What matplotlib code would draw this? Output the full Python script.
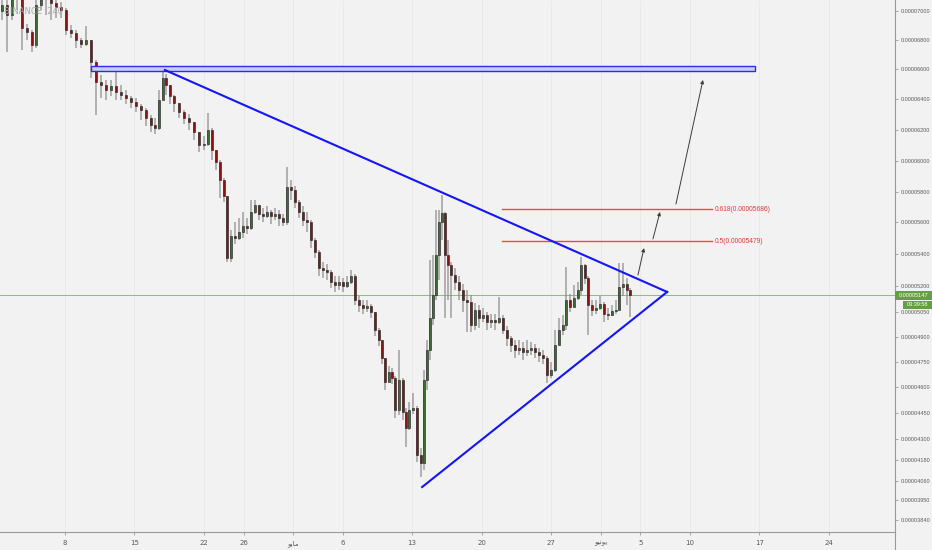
import numpy as np
import matplotlib.pyplot as plt
from matplotlib import font_manager

# 4h candles, x = days since 1 April, prices in units of 1e-8
days = [0.65, 1.16, 1.66, 2.16, 2.67, 3.17, 3.68, 4.08, 4.58, 5.09,
        5.59, 6.09, 6.6, 7.1, 7.61, 8.11, 8.61, 9.12, 9.62, 10.13,
        10.63, 11.13, 11.64, 12.14, 12.65, 13.15, 13.65, 14.16, 14.66, 15.17,
        15.67, 16.07, 16.48, 16.88, 17.18, 17.59, 17.99, 18.49, 19.0, 19.5,
        20.01, 20.51, 21.01, 21.42, 21.82, 22.22, 22.63, 23.03, 23.33, 23.73,
        24.14, 24.54, 24.94, 25.35, 25.75, 26.15, 26.56, 26.96, 27.36, 27.77,
        28.17, 28.57, 28.98, 29.38, 29.78, 30.19, 30.59, 30.99, 31.4, 31.8,
        32.2, 32.61, 33.01, 33.41, 33.82, 34.22, 34.62, 35.02, 35.43, 35.83,
        36.23, 36.64, 37.04, 37.44, 37.85, 38.25, 38.65, 38.96, 39.26, 39.66,
        39.96, 40.27, 40.67, 41.07, 41.37, 41.68, 42.08, 42.48, 42.89, 43.19,
        43.49, 43.79, 44.1, 44.4, 44.7, 45.0, 45.31, 45.61, 45.91, 46.31,
        46.72, 47.12, 47.52, 47.93, 48.33, 48.73, 49.14, 49.54, 49.94, 50.35,
        50.75, 51.15, 51.56, 51.96, 52.36, 52.77, 53.17, 53.57, 53.97, 54.38,
        54.78, 55.18, 55.59, 55.99, 56.39, 56.8, 57.2, 57.5, 57.9, 58.31,
        58.71, 59.01, 59.42, 59.72, 60.12, 60.53, 60.93, 61.33, 61.74, 62.14,
        62.54, 62.85, 63.25, 63.65, 63.95]

close = [7041, 6972, 7110, 7145, 6883, 6855, 6765, 7041, 7110, 7090,
         7055, 7028, 7007, 6869, 6848, 6800, 6772, 6800, 6648, 6513,
         6493, 6460, 6487, 6447, 6427, 6407, 6381, 6355, 6329, 6277,
         6232, 6213, 6394, 6540, 6493, 6420, 6374, 6316, 6277, 6252,
         6187, 6103, 6110, 6200, 6071, 5994, 5877, 5773, 5375, 5512,
         5500, 5537, 5575, 5562, 5667, 5713, 5653, 5640, 5667, 5640,
         5653, 5627, 5600, 5832, 5813, 5733, 5667, 5613, 5600, 5487,
         5412, 5312, 5300, 5287, 5225, 5206, 5225, 5200, 5225, 5262,
         5118, 5088, 5071, 5082, 5047, 4941, 4882, 4774, 4630, 4690,
         4654, 4467, 4642, 4456, 4363, 4467, 4479, 4208, 4163, 4642,
         4822, 5012, 5147, 5394, 5600, 5660, 5394, 5331, 5269, 5225,
         5176, 5118, 5106, 4971, 5059, 5012, 5029, 4988, 5000, 4988,
         5012, 4941, 4894, 4852, 4822, 4834, 4810, 4822, 4834, 4810,
         4792, 4774, 4672, 4702, 4852, 4941, 4971, 5118, 5076, 5129,
         5176, 5331, 5250, 5088, 5059, 5071, 5094, 5035, 5029, 5053,
         5059, 5194, 5212, 5176, 5147]

high = [7214, 7145, 7248, 7283, 7145, 6910, 6869, 7179, 7214, 7179,
        7110, 7076, 7062, 7021, 6903, 6869, 6814, 6897, 6800, 6662,
        6560, 6527, 6527, 6607, 6493, 6460, 6420, 6407, 6368, 6342,
        6297, 6277, 6460, 6593, 6567, 6487, 6427, 6368, 6329, 6303,
        6239, 6187, 6161, 6310, 6213, 6071, 6006, 5890, 5773, 5550,
        5600, 5627, 5667, 5627, 5747, 5747, 5713, 5693, 5707, 5680,
        5693, 5680, 5653, 5961, 5877, 5839, 5747, 5707, 5667, 5613,
        5500, 5425, 5350, 5337, 5300, 5262, 5262, 5250, 5262, 5300,
        5275, 5141, 5118, 5118, 5094, 5047, 4953, 4882, 4762, 4726,
        4714, 4666, 4822, 4654, 4479, 4513, 4565, 4490, 4249, 4702,
        4882, 5362, 5394, 5680, 5680, 5780, 5667, 5487, 5350, 5312,
        5262, 5212, 5176, 5147, 5100, 5088, 5071, 5047, 5035, 5035,
        5135, 5029, 4965, 4906, 4882, 4882, 4870, 4882, 4870, 4858,
        4834, 4822, 4786, 4750, 4941, 5012, 5029, 5319, 5153, 5206,
        5225, 5381, 5337, 5262, 5118, 5118, 5141, 5106, 5071, 5088,
        5118, 5344, 5344, 5250, 5188]

low = [6938, 6717, 6938, 7007, 6731, 6800, 6717, 6745, 7007, 6972,
       6938, 6952, 6952, 6834, 6814, 6745, 6745, 6759, 6540, 6297,
       6407, 6394, 6420, 6394, 6394, 6368, 6342, 6316, 6265, 6226,
       6187, 6174, 6200, 6394, 6427, 6368, 6316, 6277, 6239, 6200,
       6136, 6058, 6071, 6097, 6006, 5942, 5760, 5733, 5350, 5350,
       5462, 5487, 5500, 5525, 5550, 5653, 5613, 5600, 5627, 5587,
       5613, 5575, 5575, 5581, 5747, 5693, 5627, 5575, 5537, 5437,
       5375, 5262, 5250, 5237, 5188, 5165, 5176, 5165, 5188, 5212,
       5088, 5047, 5035, 5047, 5012, 4906, 4846, 4738, 4583, 4642,
       4618, 4421, 4438, 4410, 4254, 4352, 4444, 4168, 4083, 4123,
       4583, 4762, 4971, 5118, 5237, 5487, 5012, 5118, 5012, 5176,
       5118, 5047, 4929, 4929, 4941, 4953, 4988, 4941, 4953, 4941,
       4976, 4918, 4846, 4810, 4774, 4792, 4762, 4786, 4792, 4774,
       4750, 4738, 4624, 4654, 4690, 4882, 4912, 4941, 5047, 5094,
       5118, 5147, 5212, 4912, 5024, 5035, 5059, 4988, 5000, 5024,
       5035, 5059, 5141, 5088, 5018]

first_open = 7000
last_price = 5147
timer_text = "03:39:58"

# drawings
tri_days = [17.08, 67.7, 43.0]
tri_prices = [6593, 5165, 4025]
rect_days = [9.62, 76.6]
rect_prices = [6587, 6620]
fib_ratios = ["0.5", "0.618"]
fib_prices = [5479, 5686]
fib_days = [51.05, 72.22]
arrows = [((64.76, 5269), (65.37, 5437)),
          ((66.27, 5494), (66.98, 5667)),
          ((68.59, 5720), (71.31, 6527))]

x_ticks = [7, 14, 21, 25, 30, 35, 42, 49, 56, 61, 65, 70, 77, 84]
# Arabic month names in visual (shaped) order
MAY = "\ufeee\ufef3\ufe8e\ufee3"
JUNE = "\ufeee\ufef4\ufee7\ufeee\ufef3"
x_labels = ["8", "15", "22", "26", MAY, "6", "13", "20", "27", JUNE, "5", "10", "17", "24"]
y_ticks = [3840, 3950, 4060, 4180, 4300, 4450, 4600, 4750, 4900, 5050, 5200,
           5400, 5600, 5800, 6000, 6200, 6400, 6600, 6800, 7000]

# price axis spacing as drawn by the source chart
scale_price = np.array([3000, 3773, 3840, 3950, 4060, 4180, 4300, 4450, 4600, 4750, 4900,
                        5200, 5400, 5600, 5800, 6000, 6200, 6400, 6600, 6800, 7000, 7076, 8000])
scale_pos = -np.array([672, 532, 520, 500, 481, 460, 439, 413, 387, 362, 337,
                       286, 254, 222, 192, 161, 130, 99, 69, 40, 11, 0, -134], dtype=float)


def fwd(p):
    return np.interp(p, scale_price, scale_pos)


def inv(v):
    return np.interp(v, scale_pos, scale_price)


avail = {f.name for f in font_manager.fontManager.ttflist}
NARROW = next((n for n in ["Liberation Sans Narrow", "Liberation Sans", "Roboto"] if n in avail),
              "DejaVu Sans")
plt.rcParams["font.family"] = ["DejaVu Sans"]
BG = "#f2f2f2"
AX_COL = "#9a9a9a"
GREEN_TAG = "#62a046"
W, H = 932, 550

fig = plt.figure(figsize=(W / 100, H / 100), dpi=100, facecolor=BG)
ax = fig.add_axes([0, 18 / H, 895 / W, 532 / H], facecolor=BG)
ax.set_yscale("function", functions=(fwd, inv))

d = np.array(days)
c = np.array(close, dtype=float)
o = np.concatenate([[first_open], c[:-1]])
h = np.maximum(np.array(high, dtype=float), np.maximum(o, c))
l = np.minimum(np.array(low, dtype=float), np.minimum(o, c))
up = c >= o

ax.vlines(d, l, h, color="#8a8a8a", lw=1.1, alpha=0.8, zorder=2)
ax.bar(d[up], (c - o)[up], bottom=o[up], width=0.26, color="#3f6b35",
       edgecolor="#1a1a1a", linewidth=0.4, zorder=3)
ax.bar(d[~up], (o - c)[~up], bottom=c[~up], width=0.26, color="#8e1212",
       edgecolor="#1a1a1a", linewidth=0.4, zorder=3)

# last price line
ax.axhline(last_price, color="#86c267", lw=0.7, zorder=1)

# triangle
ax.plot([tri_days[0], tri_days[1]], [tri_prices[0], tri_prices[1]], color="#1414ff", lw=1.5, zorder=5)
ax.plot([tri_days[2], tri_days[1]], [tri_prices[2], tri_prices[1]], color="#1414ff", lw=1.5, zorder=5)

# resistance box
ax.add_patch(plt.Rectangle((rect_days[0], rect_prices[0]), rect_days[1] - rect_days[0],
                           rect_prices[1] - rect_prices[0], facecolor="#c9cdf6",
                           edgecolor="#2a2aff", lw=1.0, zorder=4))

# fib levels
fib_texts = []
for r, p in zip(fib_ratios, fib_prices):
    ax.plot(fib_days, [p, p], color="#f44545", lw=1.0, zorder=4)
    fib_texts.append(ax.text(fib_days[1] + 0.3, p, f"{r}({p / 1e8:.8f})", color="#e53935",
                             fontsize=5, va="center", ha="left", zorder=6, family=NARROW))

for tail, head in arrows:
    ax.annotate("", xy=head, xytext=tail,
                arrowprops=dict(arrowstyle="-|>", color="#3c3c3c", lw=0.7,
                                mutation_scale=5, shrinkA=0, shrinkB=0), zorder=6)

ax.set_xlim(0.45, 90.67)
ax.set_ylim(3773, 7076)

ax.set_xticks(x_ticks)
ax.set_xticklabels(x_labels)
ax.set_yticks(y_ticks)
ax.set_yticklabels([f"{v / 1e8:.8f}" for v in y_ticks], family=NARROW)
ax.yaxis.set_minor_locator(plt.NullLocator())
ax.yaxis.tick_right()
ax.tick_params(axis="both", labelsize=5, colors=AX_COL, labelcolor="#5a5a5a",
               length=2, width=0.6, pad=2)
ax.tick_params(axis="x", pad=4)
ax.grid(axis="x", color="#e8e8e8", lw=0.6)
ax.set_axisbelow(True)

for s in ["top", "left"]:
    ax.spines[s].set_visible(False)
for s in ["right", "bottom"]:
    ax.spines[s].set_color(AX_COL)
    ax.spines[s].set_linewidth(0.8)

# right axis line continues into the date strip
fig.add_artist(plt.Line2D([895 / W, 895 / W], [0, 18 / H], color=AX_COL, lw=0.8))

fig.text(4 / W, 1 - 12 / H, "BINANCE  240", fontsize=6, color="#a8a8a8", va="center")

# shrink the price-scale text so it fits the 37 px strip like the source
fig.canvas.draw()
rend = fig.canvas.get_renderer()
widest = max(t.get_window_extent(rend).width for t in ax.get_yticklabels())
size = min(5.2, 5.0 * 29.5 / widest)
ax.tick_params(axis="y", labelsize=size)
for t in fib_texts:
    t.set_fontsize(max(size, 4.8))

# last price tag and countdown, as boxes on the price scale
y_px = ax.transData.transform((1, last_price))[1]
fig.add_artist(plt.Rectangle((895, y_px - 4.5), 37, 9, transform=None,
                             facecolor=GREEN_TAG, edgecolor="none", zorder=10))
fig.text(913.5 / W, y_px / H, f"{last_price / 1e8:.8f}", ha="center", va="center",
         fontsize=size, color="white", family=NARROW, zorder=11)
fig.add_artist(plt.Rectangle((903, y_px - 14), 29, 8.5, transform=None,
                             facecolor=GREEN_TAG, edgecolor="none", zorder=10))
fig.text(917.5 / W, (y_px - 9.8) / H, timer_text, ha="center", va="center",
         fontsize=size, color="white", family=NARROW, zorder=11)

fig.savefig("out.png", dpi=100, facecolor=BG)
